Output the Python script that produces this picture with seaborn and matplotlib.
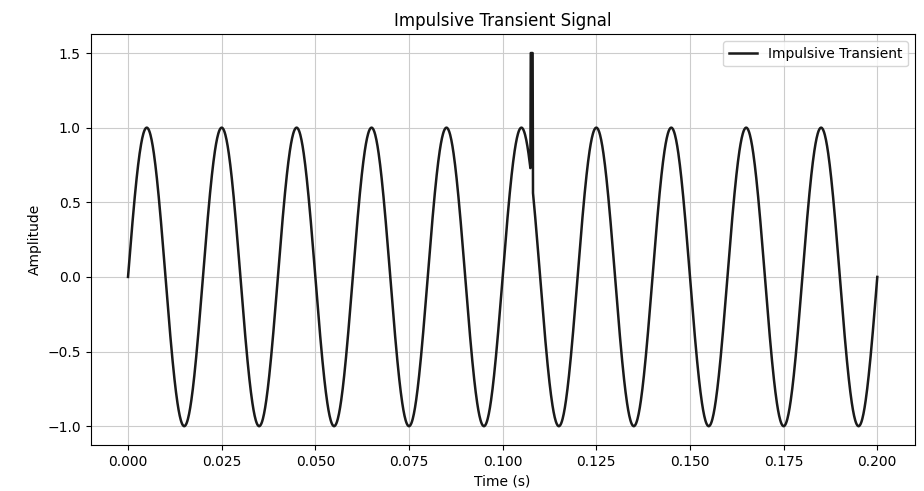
import numpy as np
import pandas as pd
import matplotlib
matplotlib.use("Agg")
import matplotlib.pyplot as plt
import seaborn as sns

# signal: 50 Hz sine, amplitude 1, 0..0.2 s
freq_hz = 50
amplitude = 1.0
t_start, t_end = 0.0, 0.2
n_samples = 2001

# impulse: short spike up to 1.5 at about 0.1075 s
spike_start = 0.1075
spike_end = 0.1080
spike_level = 1.5

t = np.linspace(t_start, t_end, n_samples)
signal = amplitude * np.sin(2 * np.pi * freq_hz * t)
signal[(t >= spike_start) & (t <= spike_end)] = spike_level

df = pd.DataFrame({"Time (s)": t, "Amplitude": signal})

fig, ax = plt.subplots(figsize=(9.24, 4.91), dpi=100)
sns.lineplot(data=df, x="Time (s)", y="Amplitude", color="#1a1a1a",
             linewidth=1.8, label="Impulsive Transient", ax=ax)
ax.set_title("Impulsive Transient Signal")
ax.set_xlabel("Time (s)")
ax.set_ylabel("Amplitude")
ax.grid(True, color="#cccccc", linewidth=0.8)
ax.legend(loc="upper right")
fig.subplots_adjust(left=0.098, right=0.99, bottom=0.094, top=0.93)
fig.savefig("out.png", dpi=100)
